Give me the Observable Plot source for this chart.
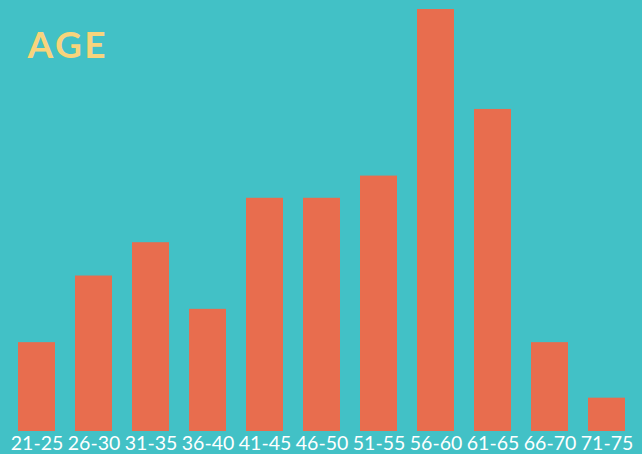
<!DOCTYPE html>
<html>
<head>
<meta charset="utf-8">
<script src="https://cdn.jsdelivr.net/npm/d3@7"></script>
<script src="https://cdn.jsdelivr.net/npm/@observablehq/plot@0.6"></script>
<style>
  html, body { margin: 0; padding: 0; background: #42C1C6; }
  .age-title text { letter-spacing: 2.5px; }
</style>
</head>
<body>
<div id="chart"></div>
<script>
const categories = ["21-25","26-30","31-35","36-40","41-45","46-50","51-55","56-60","61-65","66-70","71-75"];
const values = [8, 14, 17, 11, 21, 21, 23, 38, 29, 8, 3];
const title = "AGE";

const data = categories.map((c, i) => ({age: c, count: values[i]}));

const chart = Plot.plot({
  width: 642,
  height: 454,
  marginLeft: 8,
  marginRight: 6,
  marginTop: 9,
  marginBottom: 23,
  style: {background: "#42C1C6", color: "white", fontFamily: "Lato, sans-serif"},
  x: {domain: categories, paddingInner: 0.35, paddingOuter: 0.175, label: null},
  y: {domain: [0, 38], axis: null},
  marks: [
    Plot.barY(data, {x: "age", y: "count", fill: "#E86D4E"}),
    Plot.axisX({tickSize: 0, tickPadding: 5, fontSize: 19.5, label: null, fill: "white"}),
    Plot.text([title], {frameAnchor: "top-left", dx: 19, dy: 22, lineAnchor: "top", textAnchor: "start",
      fontSize: 37, fontWeight: 700, fill: "#F8D47C", fontFamily: "Lato, sans-serif", className: "age-title"})
  ]
});
document.getElementById("chart").appendChild(chart);
</script>
</body>
</html>
